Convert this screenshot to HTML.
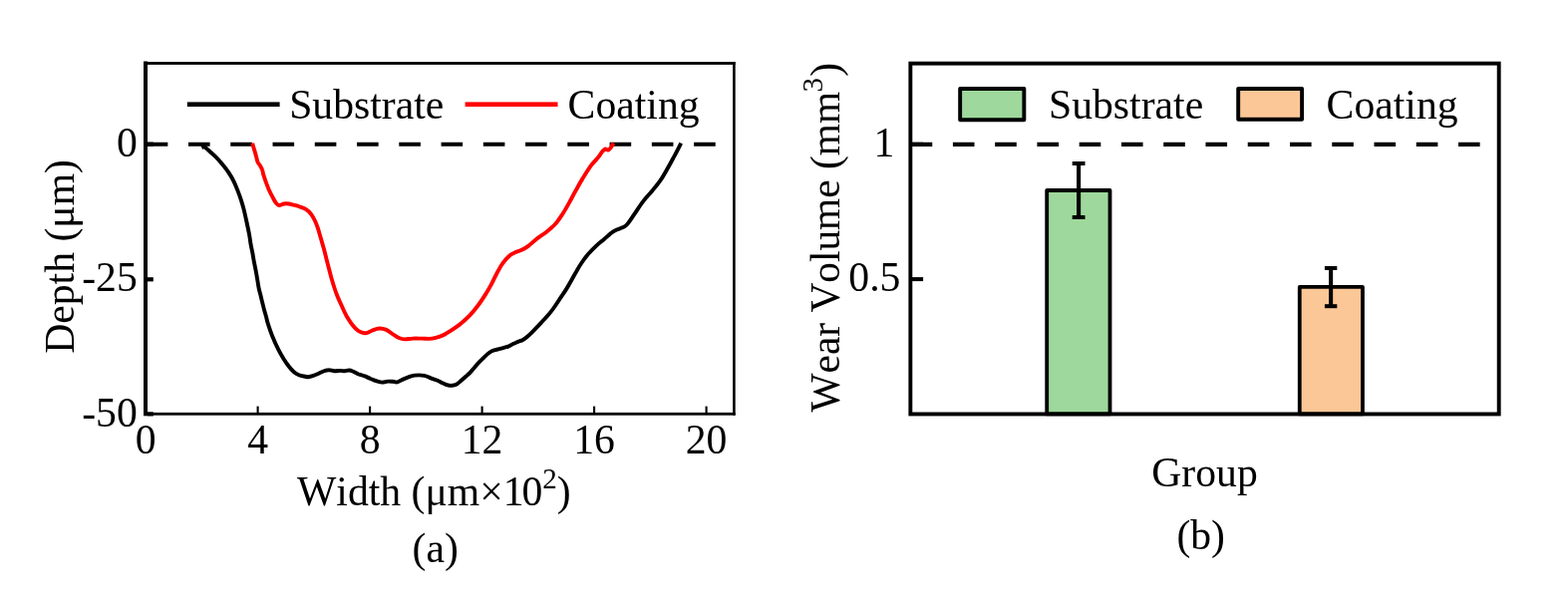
<!DOCTYPE html><html><head><meta charset="utf-8"><title>Wear figure</title><style>html,body{margin:0;padding:0;background:#fff;}svg{display:block;}text{font-family:"Liberation Serif","Times New Roman",serif;fill:#000;font-kerning:none;}</style></head><body>
<svg width="1573" height="605" viewBox="0 0 1573 605">
<rect width="1573" height="605" fill="#fff"/>
<line x1="146.74" y1="144.7" x2="735" y2="144.7" stroke="#000" stroke-width="4" stroke-dasharray="21.6 20.66"/>
<path d="M202.4,148.3 C202.8,148.1 203.4,146.8 204.6,147.2 C205.8,147.6 207.5,149.3 209.4,151.0 C211.3,152.7 214.0,154.9 216.2,157.2 C218.4,159.4 220.6,161.8 222.8,164.5 C225.0,167.2 227.4,170.1 229.4,173.1 C231.4,176.1 233.2,179.2 234.7,182.3 C236.2,185.4 237.4,188.5 238.6,191.6 C239.8,194.7 240.9,197.7 241.9,200.8 C242.9,203.9 243.7,206.5 244.6,210.1 C245.5,213.7 246.5,218.3 247.4,222.5 C248.3,226.7 249.3,231.4 250.0,235.0 C250.7,238.6 250.9,241.1 251.4,244.1 C251.9,247.1 252.6,250.2 253.2,253.2 C253.8,256.2 254.2,259.3 254.8,262.3 C255.4,265.3 256.0,268.4 256.6,271.4 C257.2,274.4 257.7,277.5 258.2,280.5 C258.7,283.5 259.1,286.6 259.7,289.5 C260.3,292.4 261.3,295.6 261.9,298.2 C262.5,300.8 262.9,302.6 263.5,304.8 C264.1,307.0 264.6,309.2 265.2,311.4 C265.8,313.6 266.5,315.9 267.1,318.1 C267.7,320.3 267.7,321.4 268.8,324.7 C269.9,328.0 271.7,333.5 273.5,337.9 C275.3,342.3 277.6,347.3 279.5,351.1 C281.4,354.9 283.3,358.0 285.0,360.8 C286.7,363.6 288.2,365.7 289.9,367.8 C291.5,369.9 293.2,371.8 294.9,373.2 C296.5,374.6 298.1,375.5 299.8,376.2 C301.5,376.9 303.2,377.2 304.8,377.5 C306.4,377.8 307.8,378.2 309.3,378.2 C310.8,378.1 312.0,377.8 313.7,377.2 C315.4,376.6 317.9,375.5 319.7,374.7 C321.5,373.9 323.0,373.1 324.6,372.5 C326.2,371.9 327.8,371.2 329.6,371.2 C331.4,371.1 333.5,372.1 335.5,372.2 C337.5,372.3 339.8,371.9 341.5,371.9 C343.2,371.9 344.0,372.3 345.5,372.2 C347.0,372.1 348.9,371.4 350.4,371.5 C351.9,371.6 352.9,372.1 354.4,372.7 C355.9,373.3 357.5,374.4 359.3,375.2 C361.1,375.9 363.3,376.4 365.3,377.2 C367.3,377.9 369.2,378.9 371.2,379.7 C373.2,380.5 375.2,381.5 377.2,382.2 C379.2,382.9 381.1,383.5 383.1,383.6 C385.1,383.7 387.3,382.7 389.1,382.6 C390.9,382.5 392.5,382.7 394.1,382.8 C395.7,382.9 397.0,383.7 398.5,383.4 C400.0,383.1 401.0,382.0 402.9,381.2 C404.8,380.4 407.6,379.1 409.8,378.3 C412.0,377.5 413.2,376.9 415.8,376.6 C418.4,376.4 422.9,376.3 425.7,376.8 C428.5,377.3 430.6,378.9 432.6,379.6 C434.6,380.3 435.6,380.4 437.6,381.2 C439.6,382.0 442.6,383.6 444.5,384.5 C446.4,385.4 447.6,386.0 449.1,386.4 C450.6,386.8 452.1,386.9 453.6,386.8 C455.1,386.7 456.7,386.3 458.2,385.5 C459.7,384.7 461.2,383.1 462.7,381.8 C464.2,380.5 465.8,379.1 467.3,377.7 C468.8,376.3 470.3,375.2 471.8,373.6 C473.3,372.0 474.9,369.9 476.4,368.2 C477.9,366.5 479.4,364.8 480.9,363.2 C482.4,361.6 484.0,360.1 485.5,358.6 C487.0,357.2 488.5,355.6 490.0,354.5 C491.5,353.4 493.0,352.5 494.5,351.8 C496.0,351.1 497.5,350.9 499.1,350.5 C500.7,350.1 502.2,349.8 504.0,349.3 C505.8,348.8 508.0,348.3 509.8,347.6 C511.6,346.9 513.1,345.9 514.7,345.1 C516.4,344.3 518.1,343.6 519.7,342.9 C521.4,342.2 523.0,341.9 524.6,341.0 C526.2,340.1 528.0,338.7 529.6,337.3 C531.2,335.9 532.9,334.4 534.5,332.7 C536.1,331.0 537.8,329.2 539.5,327.4 C541.2,325.6 542.7,323.9 544.5,322.0 C546.3,320.1 548.4,318.0 550.2,315.8 C552.0,313.6 553.7,311.6 555.5,309.0 C557.3,306.4 559.2,303.6 561.2,300.5 C563.2,297.4 565.8,293.8 567.8,290.6 C569.8,287.4 571.4,284.6 573.1,281.5 C574.9,278.4 576.5,275.2 578.3,272.2 C580.0,269.2 581.6,266.4 583.6,263.5 C585.6,260.6 587.8,257.6 590.2,254.8 C592.6,252.0 595.6,249.1 598.2,246.6 C600.9,244.1 603.9,241.9 606.1,240.0 C608.3,238.1 609.7,236.7 611.5,235.2 C613.3,233.7 614.9,232.3 617.1,231.2 C619.3,230.0 622.5,229.3 624.5,228.3 C626.5,227.3 627.0,227.5 629.0,225.3 C631.0,223.1 633.7,218.8 636.4,214.9 C639.1,211.0 642.3,205.8 645.3,201.9 C648.3,198.0 651.4,195.0 654.2,191.5 C657.1,188.0 659.9,184.7 662.4,181.1 C664.9,177.5 666.8,174.1 669.1,170.0 C671.5,165.9 674.1,161.0 676.5,156.6 C678.9,152.2 682.1,145.8 683.2,143.6" fill="none" stroke="#000" stroke-width="3.9" stroke-linejoin="round"/>
<path d="M253.2,143.6 C253.5,144.8 254.5,148.3 255.2,150.6 C255.8,152.9 256.6,155.2 257.1,157.2 C257.7,159.2 257.8,161.0 258.5,162.5 C259.2,164.0 260.3,165.1 261.1,166.4 C261.9,167.7 262.6,168.9 263.1,170.4 C263.7,171.9 263.7,173.5 264.4,175.7 C265.1,177.9 266.2,181.2 267.1,183.6 C268.0,186.0 268.7,187.9 269.7,190.2 C270.7,192.5 272.1,195.2 273.3,197.4 C274.5,199.6 275.5,201.8 276.6,203.2 C277.7,204.6 278.5,205.8 279.9,206.0 C281.3,206.2 283.1,204.8 284.8,204.5 C286.5,204.2 288.1,204.3 289.8,204.5 C291.5,204.7 292.9,205.2 294.8,205.7 C296.7,206.2 299.3,206.9 301.4,207.7 C303.4,208.4 305.3,209.0 307.1,210.2 C308.9,211.4 310.6,212.8 312.1,214.8 C313.6,216.8 315.1,219.6 316.2,222.0 C317.3,224.4 318.1,226.7 318.9,229.0 C319.7,231.3 320.3,233.8 321.0,236.1 C321.7,238.4 322.3,240.8 323.0,243.1 C323.7,245.4 324.4,247.8 325.0,250.1 C325.6,252.4 326.2,254.8 326.8,257.1 C327.4,259.5 328.0,261.8 328.6,264.2 C329.2,266.6 329.8,268.9 330.5,271.5 C331.2,274.1 331.8,276.8 332.6,279.5 C333.4,282.2 334.3,285.2 335.2,288.0 C336.1,290.8 337.1,293.8 338.2,296.5 C339.2,299.2 340.5,301.8 341.5,304.0 C342.5,306.2 343.0,307.4 344.0,309.6 C345.0,311.8 346.1,314.3 347.6,317.0 C349.2,319.7 351.3,323.2 353.3,325.7 C355.3,328.2 357.5,330.7 359.7,332.1 C361.9,333.5 364.4,334.3 366.7,334.2 C369.0,334.1 371.3,332.3 373.6,331.5 C375.9,330.7 378.2,329.6 380.5,329.5 C382.8,329.4 385.2,329.9 387.5,330.9 C389.8,331.9 392.3,334.1 394.4,335.5 C396.5,336.9 398.3,338.2 400.2,339.0 C402.1,339.8 403.7,340.3 406.0,340.4 C408.3,340.5 411.2,339.7 414.1,339.6 C417.0,339.5 420.7,339.6 423.4,339.6 C426.1,339.7 428.0,340.0 430.3,339.9 C432.6,339.8 434.8,339.4 437.2,338.8 C439.6,338.2 442.8,337.1 445.0,336.1 C447.2,335.1 447.8,334.6 450.4,332.9 C453.0,331.2 457.3,328.6 460.8,325.9 C464.3,323.1 468.1,319.7 471.3,316.4 C474.5,313.1 477.3,309.5 479.9,306.0 C482.5,302.5 484.7,299.1 486.9,295.6 C489.1,292.1 491.1,288.6 493.0,285.1 C494.9,281.6 496.3,278.2 498.2,274.7 C500.1,271.2 502.0,267.3 504.2,264.3 C506.4,261.3 509.2,258.3 511.2,256.5 C513.2,254.7 514.4,254.4 516.4,253.5 C518.4,252.6 521.0,252.0 523.3,250.8 C525.6,249.7 527.7,248.6 530.3,246.6 C532.9,244.6 536.1,241.4 539.1,239.1 C542.1,236.8 545.2,235.1 548.2,232.7 C551.2,230.3 554.6,227.5 557.3,224.5 C560.0,221.5 562.2,218.0 564.5,214.5 C566.8,211.0 568.8,207.4 570.9,203.6 C573.0,199.8 575.0,195.9 577.3,191.8 C579.6,187.7 581.9,183.3 584.5,179.1 C587.1,174.9 590.3,169.7 592.7,166.4 C595.1,163.1 597.1,161.5 599.1,159.1 C601.1,156.7 603.1,153.4 604.5,151.8 C605.9,150.2 606.4,149.7 607.3,149.5 C608.2,149.3 609.1,150.7 610.0,150.5 C610.9,150.3 611.8,149.3 612.7,148.2 C613.6,147.0 615.0,144.4 615.5,143.6" fill="none" stroke="#ff0000" stroke-width="3.9" stroke-linejoin="round"/>
<rect x="144" y="61.5" width="4" height="355.8" fill="#000"/>
<rect x="144" y="62.1" width="593.7" height="2.8" fill="#000"/>
<rect x="735.1" y="62.1" width="2.6" height="354.6" fill="#000"/>
<rect x="144" y="413.9" width="593.7" height="2.8" fill="#000"/>
<rect x="148" y="142.6" width="5.8" height="4.2" fill="#000"/>
<rect x="148" y="278.2" width="5.8" height="4.2" fill="#000"/>
<rect x="148" y="413.3" width="5.8" height="4.2" fill="#000"/>
<rect x="257.55" y="407.6" width="2.1" height="7" fill="#000"/>
<rect x="370.05" y="407.6" width="2.1" height="7" fill="#000"/>
<rect x="482.55" y="407.6" width="2.1" height="7" fill="#000"/>
<rect x="595.05" y="407.6" width="2.1" height="7" fill="#000"/>
<rect x="707.55" y="407.6" width="2.1" height="7" fill="#000"/>
<g font-size="41.7">
<text x="146.10" y="455.3" text-anchor="middle">0</text>
<text x="258.60" y="455.3" text-anchor="middle">4</text>
<text x="371.10" y="455.3" text-anchor="middle">8</text>
<text x="483.60" y="455.3" text-anchor="middle">12</text>
<text x="596.10" y="455.3" text-anchor="middle">16</text>
<text x="708.60" y="455.3" text-anchor="middle">20</text>
<text x="137.8" y="156.8" text-anchor="end">0</text>
<text x="137.8" y="292.4" text-anchor="end">-25</text>
<text x="137.8" y="427.5" text-anchor="end">-50</text>
<text transform="translate(73.7,354.85) rotate(-90)">Depth (μm)</text>
<text x="435.3" y="507" text-anchor="middle">Width (μm×1<tspan dx="-2.2">0</tspan><tspan font-size="29.0" dy="-17.2">2</tspan><tspan dy="17.2">)</tspan></text>
<text x="436.75" y="564" text-anchor="middle">(a)</text>
<rect x="187.85" y="102.4" width="92.75" height="4.6" fill="#000"/>
<text x="290.2" y="118.9">Substrate</text>
<rect x="466.6" y="102.4" width="92.9" height="4.6" fill="#ff0000"/>
<text x="569.6" y="118.9">Coating</text>
</g>
<line x1="913.66" y1="144.8" x2="1502" y2="144.8" stroke="#000" stroke-width="4.2" stroke-dasharray="21.6 20.66"/>
<rect x="1050.2" y="191" width="63.3" height="224.45" fill="#9ed89c" stroke="#000" stroke-width="3.8" stroke-linejoin="round"/>
<rect x="1303.75" y="287.9" width="63.2" height="127.55" fill="#fcc797" stroke="#000" stroke-width="3.8" stroke-linejoin="round"/>
<rect x="1080.05" y="164.00" width="4.1" height="54.00" fill="#000"/>
<rect x="1075.70" y="162.00" width="12.80" height="4" fill="#000"/>
<rect x="1075.70" y="216.00" width="12.80" height="4" fill="#000"/>
<rect x="1333.05" y="269.00" width="4.1" height="38.20" fill="#000"/>
<rect x="1328.90" y="267.00" width="12.40" height="4" fill="#000"/>
<rect x="1328.90" y="305.20" width="12.40" height="4" fill="#000"/>
<rect x="913.35" y="63.65" width="590.35" height="351.8" fill="none" stroke="#000" stroke-width="3.9"/>
<rect x="913" y="142.8" width="13.1" height="4" fill="#000"/>
<rect x="913" y="278.1" width="13.1" height="4" fill="#000"/>
<g font-size="41.7">
<text x="897.4" y="156.9" text-anchor="end">1</text>
<text x="903.4" y="292.2" text-anchor="end">0.5</text>
<text transform="translate(841.6,413.4) rotate(-90)" font-size="41.35">Wear Volume (mm<tspan font-size="29.0" dx="-0.6" dy="-16.4">3</tspan><tspan dx="1.2" dy="16.4">)</tspan></text>
<text x="1208.5" y="487.7" text-anchor="middle">Group</text>
<text x="1204.7" y="550.6" text-anchor="middle">(b)</text>
<rect x="963.15" y="88.95" width="64.2" height="31.3" fill="#9ed89c" stroke="#000" stroke-width="3.9" stroke-linejoin="round"/>
<text x="1052" y="119">Substrate</text>
<rect x="1242.2" y="88.95" width="63.9" height="30.8" fill="#fcc797" stroke="#000" stroke-width="3.9" stroke-linejoin="round"/>
<text x="1330.6" y="119">Coating</text>
</g>
</svg></body></html>
